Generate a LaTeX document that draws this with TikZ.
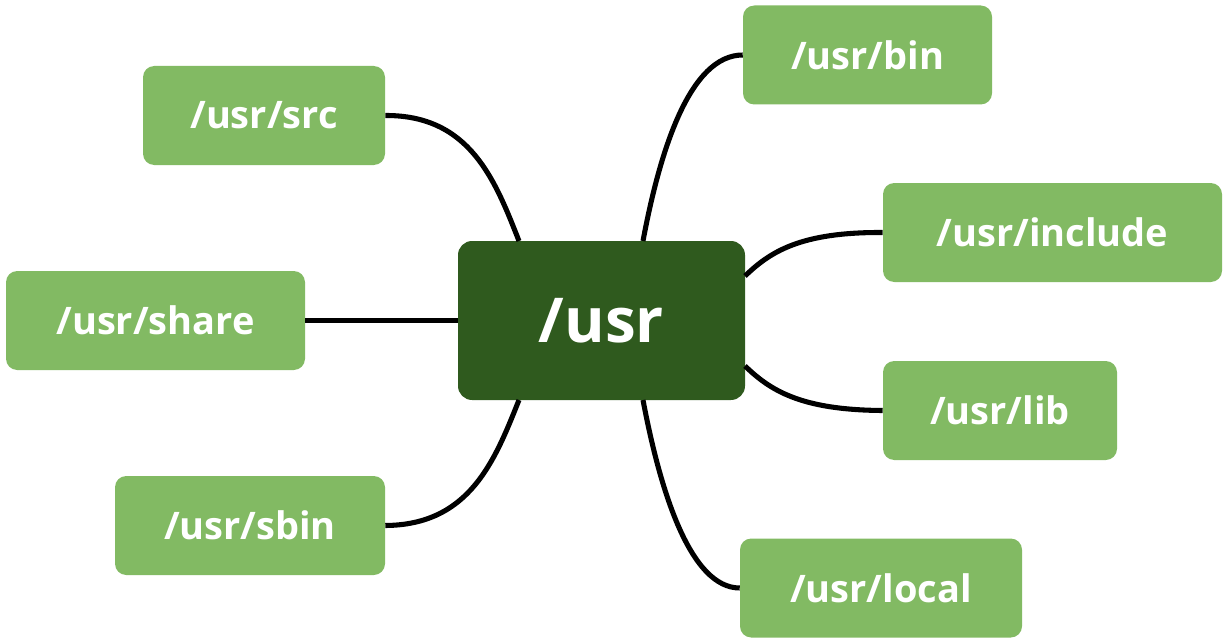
\documentclass[tikz,border=0pt]{standalone}
\usepackage{fontspec}
\setmainfont{Open Sans}
\definecolor{dk}{HTML}{2F5A1E}
\definecolor{lt}{HTML}{82BA63}
\begin{document}
\begin{tikzpicture}[x=0.025cm,y=-0.025cm,
  leaf/.style={fill=lt,rounded corners=8pt,text=white,font=\fontsize{27}{30}\selectfont\bfseries,minimum height=99*0.025cm,inner sep=0pt},
  link/.style={line width=3.6pt,black}]
\useasboundingbox (0,0) rectangle (1231,644);
\node[fill=dk,rounded corners=10pt,text=white,font=\fontsize{44}{48}\selectfont\bfseries,minimum width=287*0.025cm,minimum height=159*0.025cm] (c) at (601.5,320.5) {/usr};
\node[leaf,minimum width=242*0.025cm] (src) at (264,115.5) {/usr/src};
\node[leaf,minimum width=299*0.025cm] (share) at (155.5,320.5) {/usr/share};
\node[leaf,minimum width=270*0.025cm] (sbin) at (250,525.5) {/usr/sbin};
\node[leaf,minimum width=249*0.025cm] (bin) at (867.5,55) {/usr/bin};
\node[leaf,minimum width=339*0.025cm] (inc) at (1052.5,232.5) {/usr/include};
\node[leaf,minimum width=234*0.025cm] (lib) at (1000,410.5) {/usr/lib};
\node[leaf,minimum width=282*0.025cm] (loc) at (881,588) {/usr/local};
\coordinate (c1) at (519,241);
\coordinate (c2) at (519,400);
\coordinate (c3) at (643,241);
\coordinate (c4) at (643,400);
\coordinate (c5) at (745,276);
\coordinate (c6) at (745,366);
\begin{scope}[link]
\draw (src.east) .. controls (470,115) and (495,180) .. (c1);
\draw (share.east) -- (c.west);
\draw (sbin.east) .. controls (470,525) and (495,460) .. (c2);
\draw (bin.west) .. controls (690,55) and (660,150) .. (c3);
\draw (loc.west) .. controls (690,588) and (660,490) .. (c4);
\draw (inc.west) .. controls (800,232) and (770,252) .. (c5);
\draw (lib.west) .. controls (800,410) and (770,390) .. (c6);
\end{scope}
\end{tikzpicture}
\end{document}
